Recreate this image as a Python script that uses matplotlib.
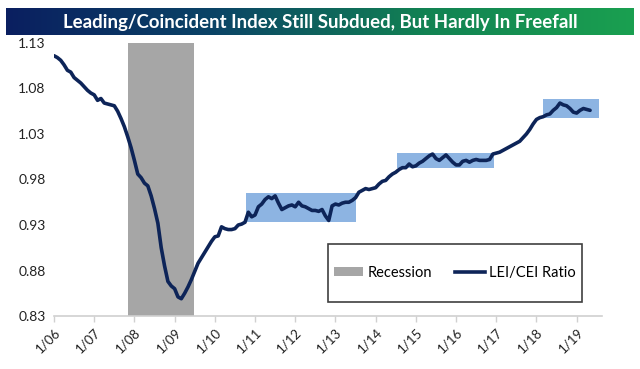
import numpy as np
import matplotlib.pyplot as plt
from matplotlib.colors import LinearSegmentedColormap
from matplotlib.patches import Patch, Rectangle
from matplotlib.lines import Line2D

# monthly LEI/CEI ratio, Jan 2006 .. May 2019
ratio_by_year = {
    2006: [1.116, 1.114, 1.111, 1.106, 1.100, 1.098, 1.092, 1.089, 1.086, 1.082, 1.078, 1.075],
    2007: [1.073, 1.067, 1.069, 1.064, 1.063, 1.062, 1.061, 1.055, 1.047, 1.038, 1.027, 1.015],
    2008: [1.001, 0.986, 0.982, 0.976, 0.973, 0.962, 0.948, 0.932, 0.905, 0.885, 0.868, 0.863],
    2009: [0.860, 0.851, 0.849, 0.855, 0.862, 0.870, 0.879, 0.888, 0.894, 0.900, 0.906, 0.912],
    2010: [0.917, 0.918, 0.928, 0.926, 0.925, 0.925, 0.926, 0.930, 0.931, 0.933, 0.944, 0.939],
    2011: [0.941, 0.950, 0.953, 0.958, 0.961, 0.959, 0.962, 0.954, 0.947, 0.949, 0.951, 0.952],
    2012: [0.950, 0.955, 0.951, 0.950, 0.948, 0.946, 0.946, 0.945, 0.947, 0.940, 0.935, 0.951],
    2013: [0.953, 0.952, 0.954, 0.955, 0.955, 0.957, 0.960, 0.966, 0.968, 0.970, 0.969, 0.970],
    2014: [0.971, 0.975, 0.978, 0.979, 0.983, 0.986, 0.988, 0.991, 0.993, 0.993, 0.997, 0.994],
    2015: [0.995, 0.998, 1.000, 1.003, 1.006, 1.008, 1.003, 1.001, 1.004, 1.007, 1.003, 0.999],
    2016: [0.996, 0.996, 1.000, 1.001, 0.999, 1.001, 1.002, 1.001, 1.001, 1.001, 1.002, 1.008],
    2017: [1.009, 1.010, 1.012, 1.014, 1.016, 1.018, 1.020, 1.022, 1.026, 1.030, 1.035, 1.041],
    2018: [1.046, 1.048, 1.049, 1.051, 1.052, 1.056, 1.059, 1.064, 1.062, 1.061, 1.058, 1.054],
    2019: [1.053, 1.056, 1.058, 1.057, 1.056],
}

recession = (2007.84, 2009.48)
# highlighted consolidation boxes: (x start, x end, y low, y high)
boxes = [
    (2010.78, 2013.51, 0.933, 0.965),
    (2014.53, 2016.95, 0.993, 1.009),
    (2018.16, 2019.56, 1.048, 1.068),
]

years = list(range(2006, 2020))
year_labels = ["1/%02d" % (y % 100) for y in years]
y_ticks = [0.83, 0.88, 0.93, 0.98, 1.03, 1.08, 1.13]

t = []
v = []
for yr, vals in ratio_by_year.items():
    for i, val in enumerate(vals):
        t.append(yr + i / 12.0)
        v.append(val)

navy = "#0d2458"
font = "Lato"

fig = plt.figure(figsize=(6.4, 3.69), dpi=100)

# title banner with gradient
bax = fig.add_axes([6 / 640, 1 - 35 / 369, 628 / 640, 27 / 369])
cmap = LinearSegmentedColormap.from_list("banner", ["#0a1f60", "#0b4466", "#128253", "#1aa050"])
bax.imshow(np.linspace(0, 1, 256)[None, :], aspect="auto", cmap=cmap, extent=[0, 1, 0, 1])
bax.set_axis_off()
bax.text(0.5, 0.48, "Leading/Coincident Index Still Subdued, But Hardly In Freefall",
         color="white", fontsize=13.4, fontweight="bold", family=font,
         ha="center", va="center", transform=bax.transAxes)

ax = fig.add_axes([54 / 640, 1 - 316 / 369, 548 / 640, 273 / 369])
ax.axvspan(recession[0], recession[1], color="#a6a6a6", lw=0, zorder=1)
for x0, x1, y0, y1 in boxes:
    ax.add_patch(Rectangle((x0, y0), x1 - x0, y1 - y0, facecolor="#8db4e2",
                           edgecolor="none", zorder=1))
ax.plot(t, v, color=navy, lw=2.6, zorder=3, solid_capstyle="round")

ax.set_xlim(2006.0, 2019.63)
ax.set_ylim(0.83, 1.13)
ax.set_yticks(y_ticks)
ax.set_yticklabels(["%.2f" % y for y in y_ticks])
ax.set_xticks(years)
ax.set_xticklabels(year_labels, rotation=45, ha="right", rotation_mode="anchor")

for s in ["top", "right", "left"]:
    ax.spines[s].set_visible(False)
ax.spines["bottom"].set_color("#d0d0d0")
ax.spines["bottom"].set_linewidth(1.2)
ax.tick_params(axis="y", length=0, pad=6, labelsize=10, labelcolor="#222222")
ax.tick_params(axis="x", length=4, color="#d0d0d0", width=1, pad=3,
               labelsize=9.5, labelcolor="#222222")
for lab in ax.get_xticklabels() + ax.get_yticklabels():
    lab.set_family(font)

# legend: frame drawn separately, entries centred inside it
lx, ly, lw_, lh = 0.5, 0.051, 0.463, 0.213
ax.add_patch(Rectangle((lx, ly), lw_, lh, transform=ax.transAxes, facecolor="white",
                       edgecolor="#404040", lw=1.2, zorder=4))
handles = [Patch(facecolor="#a6a6a6", edgecolor="none"),
           Line2D([0], [0], color=navy, lw=2.6)]
leg = ax.legend(handles, ["Recession", "LEI/CEI Ratio"], ncol=2,
                loc="center", bbox_to_anchor=(lx + lw_ / 2, ly + lh / 2),
                frameon=False, handlelength=2.0, handleheight=0.6, handletextpad=0.3,
                columnspacing=1.6, prop={"family": font, "size": 10.5})
leg.set_zorder(5)

fig.savefig("out.png", dpi=100)
